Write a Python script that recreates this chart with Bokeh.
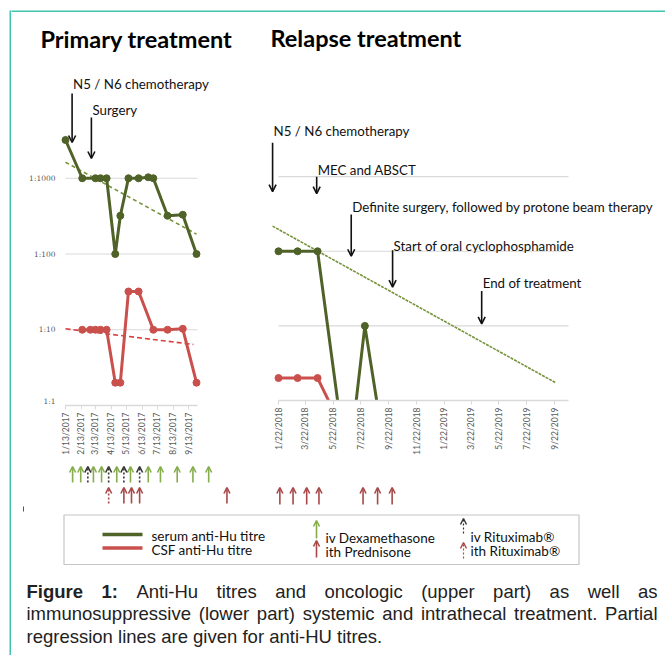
import numpy as np
from bokeh.plotting import figure
from bokeh.models import (Range1d, LinearScale, FixedTicker, CustomJSTickFormatter,
                          Label, Arrow, OpenHead, ColumnDataSource, BoxAnnotation)
from bokeh.layouts import row, column
from bokeh.embed import file_html
from bokeh.resources import INLINE

# ---------------- data ----------------
primary_serum_dates = ["2017-01-13", "2017-02-15", "2017-03-13", "2017-03-23", "2017-04-04",
                       "2017-04-21", "2017-05-01", "2017-05-17", "2017-06-06", "2017-06-25",
                       "2017-07-05", "2017-08-02", "2017-09-01", "2017-09-28"]
primary_serum_titre = [3200, 1000, 1000, 1000, 1000, 100, 320, 1000, 1000, 1030, 1000, 320, 330, 100]
primary_csf_dates = ["2017-02-15", "2017-03-03", "2017-03-13", "2017-03-23", "2017-04-04",
                     "2017-04-21", "2017-05-01", "2017-05-17", "2017-06-06", "2017-07-05",
                     "2017-08-02", "2017-09-01", "2017-09-28"]
primary_csf_titre = [10, 10, 10, 10, 10, 2, 2, 32, 32, 10, 10, 10.3, 2]
primary_serum_trend_dates = ["2017-01-13", "2017-09-28"]
primary_serum_trend = [1630, 183]
primary_csf_trend_dates = ["2017-01-13", "2017-09-22"]
primary_csf_trend = [10.3, 6.4]

relapse_serum_dates = ["2018-01-22", "2018-03-05", "2018-04-18", "2018-06-23", "2018-07-31", "2018-09-21"]
relapse_serum_titre = [100, 100, 100, 0.1, 10, 0.1]
relapse_csf_dates = ["2018-01-22", "2018-03-05", "2018-04-18", "2018-06-23"]
relapse_csf_titre = [2, 2, 2, 0.3]
relapse_serum_trend_dates = ["2018-01-09", "2019-09-23"]
relapse_serum_trend = [217, 1.74]

primary_range = ["2017-01-13", "2017-09-30"]
relapse_range = ["2018-01-22", "2019-10-22"]
primary_ticks = ["2017-01-13", "2017-02-13", "2017-03-13", "2017-04-13", "2017-05-13",
                 "2017-06-13", "2017-07-13", "2017-08-13", "2017-09-13"]
relapse_ticks = ["2018-01-22", "2018-03-22", "2018-05-22", "2018-07-22", "2018-09-22", "2018-11-22",
                 "2019-01-22", "2019-03-22", "2019-05-22", "2019-07-22", "2019-09-22"]
titre_ticks = [1, 10, 100, 1000]
titre_labels = ["1:1", "1:10", "1:100", "1:1000"]
grid_titres = [10, 100, 1000]

primary_events = ["N5 / N6 chemotherapy", "Surgery"]
primary_event_dates = ["2017-01-26", "2017-03-05"]
relapse_events = ["N5 / N6 chemotherapy", "MEC and ABSCT",
                  "Definite surgery, followed by protone beam therapy",
                  "Start of oral cyclophosphamide", "End of treatment"]
relapse_event_dates = ["2018-01-09", "2018-04-16", "2018-07-01", "2018-09-30", "2019-04-14"]

iv_dexamethasone = ["2017-01-27", "2017-02-12", "2017-03-09", "2017-03-25", "2017-04-24", "2017-05-21",
                    "2017-06-25", "2017-07-19", "2017-08-21", "2017-09-21", "2017-10-22"]
iv_rituximab = ["2017-02-26", "2017-04-08", "2017-05-08", "2017-06-08"]
ith_prednisone_primary = ["2017-05-08", "2017-05-23", "2017-06-08", "2017-11-27"]
ith_rituximab = ["2017-04-08"]
ith_prednisone_relapse = ["2018-01-25", "2018-02-23", "2018-03-25", "2018-04-21",
                          "2018-07-27", "2018-08-28", "2018-09-29"]

titles = ["Primary treatment", "Relapse treatment"]
legend_series = ["serum anti-Hu titre", "CSF anti-Hu titre"]
legend_treat = ["iv Dexamethasone", "ith Prednisone", "iv Rituximab\u00ae", "ith Rituximab\u00ae"]
caption_line1 = [("Figure", True), ("1:", True), ("Anti-Hu", False), ("titres", False), ("and", False),
                 ("oncologic", False), ("(upper", False), ("part)", False), ("as", False),
                 ("well", False), ("as", False)]
caption_line2 = "immunosuppressive (lower part) systemic and intrathecal treatment. Partial"
caption_line3 = "regression lines are given for anti-HU titres."

# ---------------- style ----------------
GREEN = "#4F6228"
RED = "#C9504C"
TREND_GREEN = "#77933C"
TREND_RED = "#DA4040"
ARROW_GREEN = "#86AD4C"
ARROW_RED = "#A84848"
GRID = "#D9D9D9"
TICKTXT = "#595959"
TEAL = "#3FC4AE"
FONT = "Lato"
ANN_SIZE = "13.3px"
LEG_SIZE = "13.5px"
TITLE_SIZE = "23.5px"
AXIS_PANEL = 55


def days(seq):
    return np.array(seq, dtype="datetime64[D]").astype(np.int64).astype(float)


def date_range(domain, px_left, px_right, canvas_w):
    d0, d1 = days(domain)
    k = (d1 - d0) / (px_right - px_left)
    return Range1d(d0 - px_left * k, d0 + (canvas_w - px_left) * k)


DATE_FMT = CustomJSTickFormatter(code="""
const d = new Date(Math.round(tick) * 86400000);
return (d.getUTCMonth() + 1) + "/" + d.getUTCDate() + "/" + d.getUTCFullYear();
""")


def make_top(width, height, xr, domain, ticks, chart_px):
    fh = height - AXIS_PANEL
    top = 10 ** (4.0 * fh / chart_px)
    p = figure(width=width, height=height, x_range=xr, y_range=Range1d(1, top),
               y_axis_type="log", y_axis_location=None, toolbar_location=None,
               output_backend="svg", min_border=0, min_border_bottom=AXIS_PANEL,
               outline_line_color=None)
    p.extra_x_ranges = {"px": Range1d(0, width)}
    p.extra_y_ranges = {"px": Range1d(0, fh)}
    p.extra_x_scales = {"px": LinearScale()}
    p.extra_y_scales = {"px": LinearScale()}
    p.grid.visible = False
    d0, d1 = days(domain)
    p.segment(x0=[d0] * len(grid_titres), x1=[d1] * len(grid_titres), y0=grid_titres,
              y1=grid_titres, line_color=GRID, line_width=1.2)
    ax = p.xaxis[0]
    ax.bounds = (d0, d1)
    ax.ticker = FixedTicker(ticks=list(days(ticks)))
    ax.formatter = DATE_FMT
    ax.major_label_orientation = np.pi / 2
    ax.axis_line_color = GRID
    ax.axis_line_width = 1.5
    ax.major_tick_line_color = GRID
    ax.major_tick_out = 4
    ax.major_tick_in = 0
    ax.minor_tick_line_color = None
    ax.major_label_text_font = FONT
    ax.major_label_text_font_size = "8.5px"
    ax.major_label_text_color = TICKTXT
    ax.major_label_standoff = 3
    return p


def make_bottom(width, height, xr):
    p = figure(width=width, height=height, x_range=xr, y_range=Range1d(0, height),
               x_axis_location=None, y_axis_location=None, toolbar_location=None,
               output_backend="svg", min_border=0, outline_line_color=None)
    p.grid.visible = False
    return p


def add_series(p, dates, vals, color):
    x = days(dates)
    p.line(x, vals, line_color=color, line_width=3, line_join="round")
    p.scatter(x, vals, size=7, color=color)


def add_trend(p, dates, vals, color, dash, width):
    p.line(days(dates), vals, line_color=color, line_width=width, line_dash=dash)


def add_events(p, names, dates, text_y, arrow_y):
    for name, d, ty, (a0, a1) in zip(names, days(dates), text_y, arrow_y):
        p.add_layout(Label(x=d, y=ty, y_range_name="px", text=name, text_font=FONT,
                           text_font_size=ANN_SIZE, text_baseline="middle", x_offset=1,
                           text_color="#111111"))
        p.add_layout(Arrow(x_start=d, y_start=a0, x_end=d, y_end=a1, y_range_name="px",
                           line_width=1.6, line_color="#111111",
                           end=OpenHead(size=7, line_width=1.6, line_color="#111111")))


def add_treat(p, dates, tip, tail, color, head_color=None, dash="solid"):
    src = ColumnDataSource(dict(x=days(dates)))
    p.add_layout(Arrow(source=src, x_start="x", x_end="x", y_start=tail, y_end=tip,
                       line_color=color, line_width=1.6, line_dash=dash,
                       end=OpenHead(size=6, line_width=1.6, line_color=head_color or color)))


def add_title(p, text, x, y):
    p.add_layout(Label(x=x, y=y, x_range_name="px", y_range_name="px", text=text,
                       text_font=FONT, text_font_style="bold", text_font_size=TITLE_SIZE,
                       text_baseline="middle", text_color="#000000"))


# ---------------- left chart: primary treatment ----------------
LW = 229
L_x = date_range(primary_range, 54, 186, LW)
L = make_top(LW, 448, L_x, primary_range, primary_ticks, 303)
add_trend(L, primary_serum_trend_dates, primary_serum_trend, TREND_GREEN, "4 3", 1.6)
add_trend(L, primary_csf_trend_dates, primary_csf_trend, TREND_RED, "5 3", 1.6)
add_series(L, primary_serum_dates, primary_serum_titre, GREEN)
add_series(L, primary_csf_dates, primary_csf_titre, RED)
add_events(L, primary_events, primary_event_dates, [322, 296], [(312, 263), (288, 247)])
add_title(L, titles[0], 29, 367)
for t, lab in zip(titre_ticks, titre_labels):
    if t == 1:
        # the axis-level label sits just above the frame bottom (kept inside the frame)
        L.add_layout(Label(x=44, x_range_name="px", y=4.5, y_range_name="px", text=lab,
                           text_font="DejaVu Serif", text_font_size="7.5px", text_color=TICKTXT,
                           text_align="right", text_baseline="middle"))
    else:
        L.add_layout(Label(x=44, x_range_name="px", y=t, text=lab, text_font="DejaVu Serif",
                           text_font_size="7.5px", text_color=TICKTXT, text_align="right",
                           text_baseline="middle"))

LB = make_bottom(LW, 45, L_x)
add_treat(LB, iv_dexamethasone, 39, 23, ARROW_GREEN)
add_treat(LB, iv_rituximab, 39, 23, "#333333", dash="2 2")
add_treat(LB, ith_prednisone_primary, 18, 2, ARROW_RED)
add_treat(LB, ith_rituximab, 18, 2, ARROW_RED, dash="2 2")

# ---------------- right chart: relapse treatment ----------------
RW = 425
R_x = date_range(relapse_range, 38, 328, RW)
R = make_top(RW, 445, R_x, relapse_range, relapse_ticks, 300)
add_trend(R, relapse_serum_trend_dates, relapse_serum_trend, TREND_GREEN, "3 1", 1.6)
add_series(R, relapse_serum_dates, relapse_serum_titre, GREEN)
add_series(R, relapse_csf_dates, relapse_csf_titre, RED)
add_events(R, relapse_events, relapse_event_dates, [271, 232, 194, 155, 118],
           [(259, 210), (225, 208), (187, 145), (151, 114), (110, 77)])
add_title(R, titles[1], 30, 364)

RB = make_bottom(RW, 48, R_x)
add_treat(RB, ith_prednisone_relapse, 18, 1, ARROW_RED)

# ---------------- bottom: legend + caption ----------------
BW, BH = LW + RW, 150
B = figure(width=BW, height=BH, x_range=Range1d(0, BW), y_range=Range1d(0, BH),
           x_axis_location=None, y_axis_location=None, toolbar_location=None,
           output_backend="svg", min_border=0, outline_line_color=None)
B.grid.visible = False
B.segment(x0=[12], y0=[144], x1=[12], y1=[149], line_color="#555555", line_width=1)
B.add_layout(BoxAnnotation(left=52.5, right=567.5, bottom=91, top=140.5, fill_color=None,
                           fill_alpha=0, line_color="#404040", line_width=1.2))
B.segment(x0=[91, 91], y0=[121, 107.5], x1=[131, 131], y1=[121, 107.5],
          line_color=[GREEN, RED], line_width=3.5)
for txt, y in zip(legend_series, [120, 105.5]):
    B.add_layout(Label(x=140, y=y, text=txt, text_font=FONT, text_font_size=LEG_SIZE,
                       text_baseline="middle", text_color="#111111"))
B.add_layout(Arrow(x_start=305, y_start=117, x_end=305, y_end=135, line_color=ARROW_GREEN,
                   line_width=1.6, end=OpenHead(size=6, line_width=1.6, line_color=ARROW_GREEN)))
B.add_layout(Arrow(x_start=305, y_start=98, x_end=305, y_end=115, line_color=ARROW_RED,
                   line_width=1.6, end=OpenHead(size=6, line_width=1.6, line_color=ARROW_RED)))
B.add_layout(Arrow(x_start=452, y_start=122, x_end=452, y_end=137, line_color="#333333",
                   line_width=1.2, line_dash="2 2",
                   end=OpenHead(size=6, line_width=1.4, line_color="#333333")))
B.add_layout(Arrow(x_start=452, y_start=97, x_end=452, y_end=113, line_color=ARROW_RED,
                   line_width=1.2, line_dash="2 2",
                   end=OpenHead(size=6, line_width=1.4, line_color=ARROW_RED)))
for txt, x, y in zip(legend_treat, [314, 314, 459, 459], [118, 104, 119, 105]):
    B.add_layout(Label(x=x, y=y, text=txt, text_font=FONT, text_font_size=LEG_SIZE,
                       text_baseline="middle", text_color="#111111"))

# caption (justified lines, Arial-metric widths for Liberation Sans)
CAP_FONT = "Liberation Sans"
CAP_SIZE = 18.5
W_REG = {'A': 667, 'H': 722, 'P': 667, 'U': 722, 'F': 611, 'a': 556, 'c': 500, 'd': 556,
         'e': 556, 'f': 278, 'g': 556, 'h': 556, 'i': 222, 'l': 222, 'm': 833, 'n': 556,
         'o': 556, 'p': 556, 'r': 333, 's': 500, 't': 278, 'u': 556, 'v': 500, 'w': 722,
         'y': 500, '(': 333, ')': 333, '-': 333, '.': 278, ' ': 278, ':': 278, '1': 556}
W_BOLD = {'F': 611, 'i': 278, 'g': 611, 'u': 611, 'r': 389, 'e': 556, '1': 556, ':': 333}


def wtext(s, bold=False):
    tab = W_BOLD if bold else W_REG
    return sum(tab.get(c, 556) for c in s) * CAP_SIZE / 1000.0


CAP_LEFT, CAP_RIGHT = 15, 646


def justify(words, y):
    widths = [wtext(w, b) for w, b in words]
    gap = (CAP_RIGHT - CAP_LEFT - sum(widths)) / (len(words) - 1)
    x = CAP_LEFT
    for (w, b), wd in zip(words, widths):
        B.add_layout(Label(x=x, y=y, text=w, text_font=CAP_FONT, text_font_size=f"{CAP_SIZE}px",
                           text_font_style="bold" if b else "normal", text_baseline="middle",
                           text_color="#222222"))
        x += wd + gap


justify(caption_line1, 64)
justify([(w, False) for w in caption_line2.split(" ")], 42)
B.add_layout(Label(x=CAP_LEFT, y=19, text=caption_line3, text_font=CAP_FONT,
                   text_font_size=f"{CAP_SIZE}px", text_baseline="middle", text_color="#222222"))


# ---------------- frame strips ----------------
def strip(w, h, **mb):
    s = figure(width=w, height=h, toolbar_location=None, output_backend="svg",
               x_axis_location=None, y_axis_location=None, outline_line_color=None,
               background_fill_color=TEAL, border_fill_color="white", min_border=0, **mb)
    s.grid.visible = False
    return s


left_strip = strip(11, 655, min_border_left=9, min_border_top=10)
top_strip = strip(BW, 12, min_border_top=10)

layout = row(left_strip,
             column(top_strip,
                    row(column(L, LB), column(R, RB)),
                    B))
open("out.html", "w").write(file_html(layout, INLINE))
